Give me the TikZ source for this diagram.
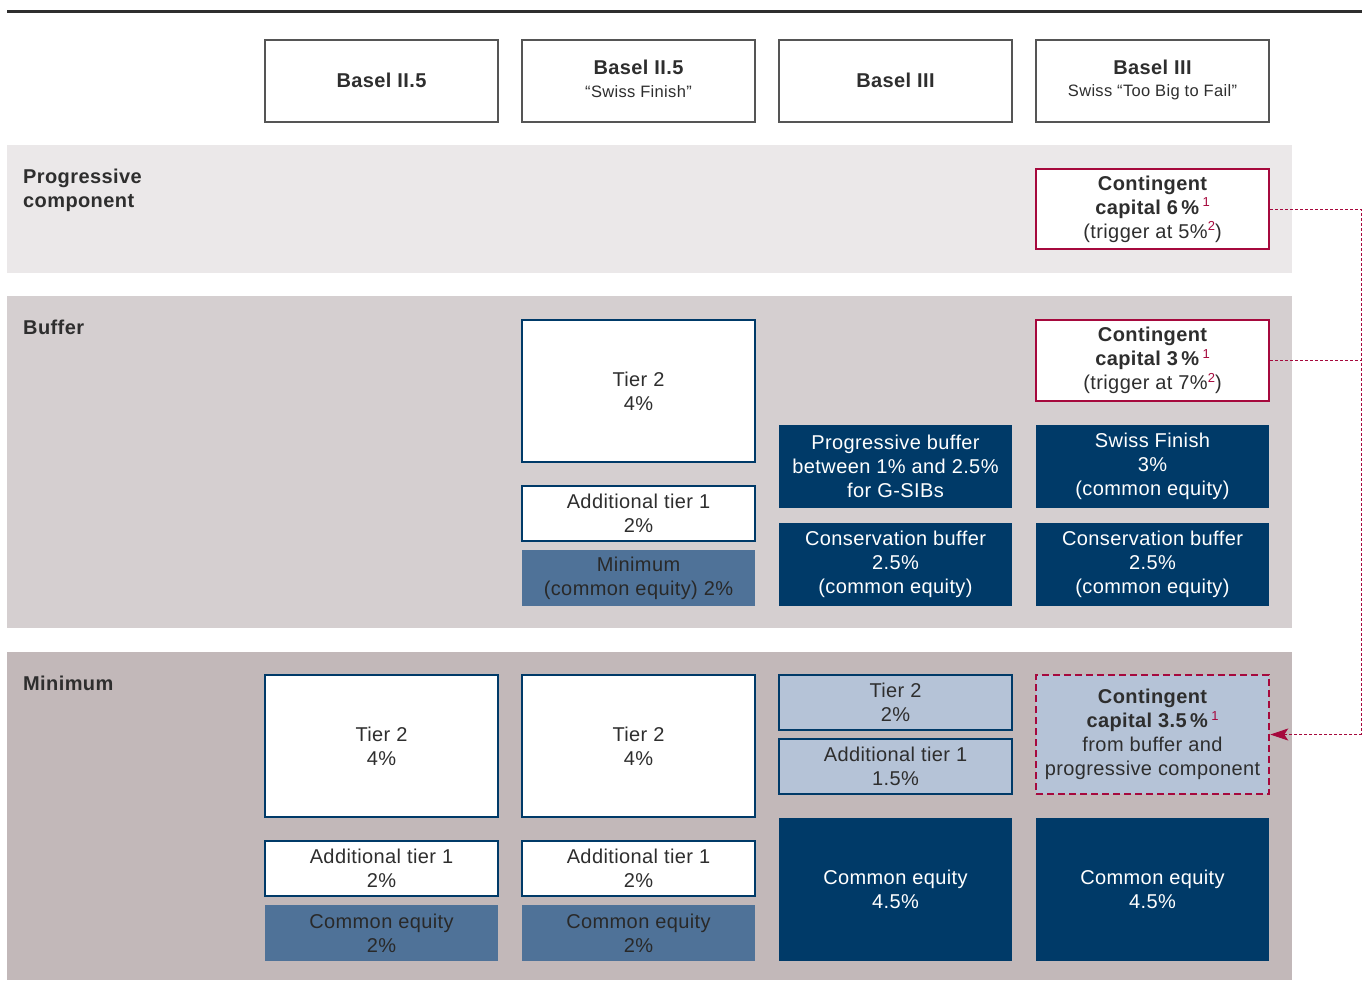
\documentclass[tikz,border=0pt]{standalone}
\usepackage{fontspec}
\setmainfont[LetterSpace=2.0]{Liberation Sans}
\usetikzlibrary{arrows.meta}
\definecolor{ccred}{HTML}{A6093D}
\definecolor{ccnavy}{HTML}{003A68}
\definecolor{ccmid}{HTML}{4F7298}
\definecolor{cclight}{HTML}{B5C3D7}
\definecolor{bandA}{HTML}{EBE8E9}
\definecolor{bandB}{HTML}{D5CFD0}
\definecolor{bandC}{HTML}{C2B8B9}
\definecolor{txt}{HTML}{2E2E2E}
\definecolor{hdrline}{HTML}{555555}
\newcommand\fnmk[1]{\,\raisebox{7.5pt}{\fontsize{13}{13}\selectfont\mdseries\color{ccred}#1}}
\newcommand\fnmkt[1]{\raisebox{7.5pt}{\fontsize{13}{13}\selectfont\mdseries\color{ccred}#1}}
\tikzset{
  base/.style={inner sep=0pt, minimum width=233pt, align=center,
    font=\fontsize{20}{24}\selectfont, text=txt},
  hdrbox/.style={base, draw=hdrline, line width=1.1pt, fill=white, minimum height=82pt},
  whitebox/.style={base, draw=ccnavy, line width=2.5pt, fill=white},
  lightbox/.style={base, draw=ccnavy, line width=2.5pt, fill=cclight},
  midbox/.style={base, fill=ccmid, text=txt!90!black},
  navybox/.style={base, fill=ccnavy, text=white},
  redbox/.style={base, draw=ccred, line width=2.5pt, fill=white},
  reddash/.style={base, draw=ccred, line width=2.5pt, fill=cclight, dash pattern=on 7pt off 4pt},
  bandlabel/.style={inner sep=0pt, anchor=north west, align=left,
    font=\fontsize{20}{24}\selectfont\bfseries, text=txt},
  hdrtitle/.style={inner sep=0pt, font=\fontsize{20}{24}\selectfont\bfseries, text=txt},
  hdrsub/.style={inner sep=0pt, font=\fontsize{16.5}{20}\selectfont, text=txt},
  conn/.style={draw=ccred, line width=0.9pt, dash pattern=on 3pt off 2pt},
}
\begin{document}
\begin{tikzpicture}[x=1pt,y=-1pt]
\useasboundingbox (0,0) rectangle (1364,980);
% top rule
\coordinate (ruleL) at (7,11);
\coordinate (ruleR) at (1362,11);
\draw[line width=3pt, color=txt] (ruleL) -- (ruleR);
% bands
\fill[bandA] (7,145) rectangle (1292,273);
\fill[bandB] (7,296) rectangle (1292,628);
\fill[bandC] (7,652) rectangle (1292,980);
\node[bandlabel] (lprog) at (23,169) {Progressive\\component};
\node[bandlabel] (lbuf) at (23,320) {Buffer};
\node[bandlabel] (lmin) at (23,676) {Minimum};
% headers
\node[hdrbox] (h1) at (381.5,81) {};
\node[hdrbox] (h2) at (638.5,81) {};
\node[hdrbox] (h3) at (895.5,81) {};
\node[hdrbox] (h4) at (1152.5,81) {};
\node[hdrtitle] (h1a) at (381.5,80) {Basel II.5};
\node[hdrtitle] (h3a) at (895.5,80) {Basel III};
\node[hdrtitle] (h2a) at (638.5,67) {Basel II.5};
\node[hdrsub] (h2b) at (638.5,92) {“Swiss Finish”};
\node[hdrtitle] (h4a) at (1152.5,67) {Basel III};
\node[hdrsub] (h4b) at (1152.5,92) {Swiss “Too Big to Fail”};
% progressive component
\node[redbox, minimum height=80pt] (cc6) at (1152.5,209)
  {\bfseries Contingent\\\bfseries capital 6\,\%\fnmk{1}\\(trigger at 5\%\fnmkt{2})};
% buffer
\node[whitebox, minimum height=142pt] (bt2) at (638.5,391) {Tier 2\\4\%};
\node[whitebox, minimum height=55pt] (bat1) at (638.5,513.5) {Additional tier 1\\2\%};
\node[midbox, minimum height=56pt] (bmin) at (638.5,578) {Minimum\\(common equity) 2\%};
\node[navybox, minimum height=83pt] (bprog) at (895.5,466.5) {Progressive buffer\\between 1\% and 2.5\%\\for G-SIBs};
\node[navybox, minimum height=83pt] (bcons3) at (895.5,564.5) {Conservation buffer\\2.5\%\\(common equity)};
\node[redbox, minimum height=81pt] (cc3) at (1152.5,360.5)
  {\bfseries Contingent\\\bfseries capital 3\,\%\fnmk{1}\\(trigger at 7\%\fnmkt{2})};
\node[navybox, minimum height=83pt] (bswiss) at (1152.5,466.5) {Swiss Finish\\3\%\\(common equity)};
\node[navybox, minimum height=83pt] (bcons4) at (1152.5,564.5) {Conservation buffer\\2.5\%\\(common equity)};
% minimum
\node[whitebox, minimum height=142pt] (m1t2) at (381.5,746) {Tier 2\\4\%};
\node[whitebox, minimum height=55pt] (m1at1) at (381.5,868.5) {Additional tier 1\\2\%};
\node[midbox, minimum height=56pt] (m1ce) at (381.5,933) {Common equity\\2\%};
\node[whitebox, minimum height=142pt] (m2t2) at (638.5,746) {Tier 2\\4\%};
\node[whitebox, minimum height=55pt] (m2at1) at (638.5,868.5) {Additional tier 1\\2\%};
\node[midbox, minimum height=56pt] (m2ce) at (638.5,933) {Common equity\\2\%};
\node[lightbox, minimum height=55pt] (m3t2) at (895.5,702.5) {Tier 2\\2\%};
\node[lightbox, minimum height=55pt] (m3at1) at (895.5,766.5) {Additional tier 1\\1.5\%};
\node[navybox, minimum height=143pt] (m3ce) at (895.5,889.5) {Common equity\\4.5\%};
\node[reddash, minimum height=119pt] (cc35) at (1152.5,734.5)
  {\bfseries Contingent\\\bfseries capital 3.5\,\%\fnmk{1}\\from buffer and\\progressive component};
\node[navybox, minimum height=143pt] (m4ce) at (1152.5,889.5) {Common equity\\4.5\%};
% connectors
\coordinate (railT) at (1361,209);
\coordinate (railB) at (1361,734.5);
\draw[conn, -{Stealth[length=18pt,width=12pt,inset=4pt]}] (cc6.east) -- (railT) -- (railB) -- (cc35.east);
\draw[conn] (cc3.east) -- (cc3.east -| railT);
\end{tikzpicture}
\end{document}
